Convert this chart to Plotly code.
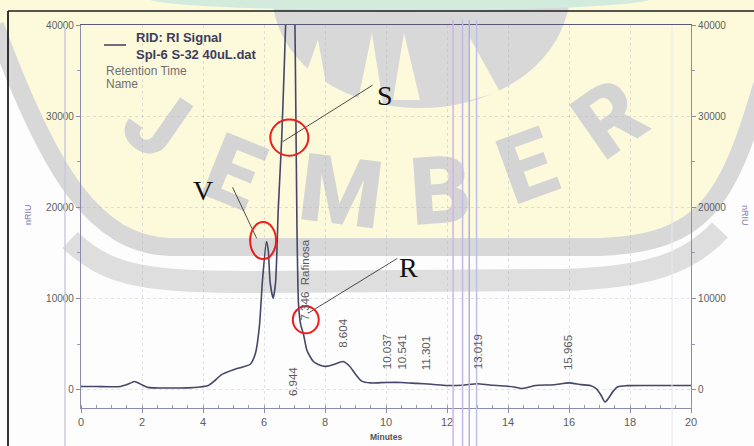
import plotly.graph_objects as go

# ---- chromatogram trace (RID: RI Signal) ----
time_min = [0.0, 0.5, 1.0, 1.3, 1.55, 1.75, 1.95, 2.2, 2.6, 3.0, 3.5, 3.9, 4.15, 4.35,
            4.6, 5.0, 5.3, 5.55, 5.72, 5.85, 5.95, 6.08, 6.14, 6.2, 6.3, 6.38, 6.47,
            6.58, 6.68, 6.78, 6.88, 6.98, 7.04, 7.08, 7.13, 7.2, 7.3, 7.4, 7.5, 7.62,
            7.8, 8.0, 8.25, 8.6, 8.8, 9.0, 9.2, 9.5, 10.0, 10.5, 11.0, 11.5, 12.0,
            12.5, 13.0, 13.4, 13.9, 14.2, 14.45, 14.7, 14.9, 15.5, 16.0, 16.4, 16.7,
            16.9, 17.05, 17.18, 17.3, 17.45, 17.6, 17.9, 18.5, 19.0, 20.0]
signal_nriu = [360, 350, 330, 360, 620, 910, 620, 260, 190, 190, 210, 300, 440, 900,
               1640, 2190, 2500, 2800, 4000, 7000, 12000, 16250, 15300, 11800, 10050,
               11800, 20000, 27500, 37000, 47000, 52000, 47000, 32000, 18000, 9500,
               7200, 6000, 4400, 3700, 3100, 2750, 2560, 2740, 3100, 2600, 1700, 950,
               750, 800, 800, 700, 600, 470, 500, 660, 520, 420, 300, 140, 300, 470,
               550, 760, 560, 470, 100, -600, -1350, -900, -150, 330, 450, 470, 470, 470]

# ---- peak retention-time labels ----
peak_rt = [6.944, 7.346, 8.604, 10.037, 10.541, 11.301, 13.019, 15.965]
peak_name = ["", "Rafinosa", "", "", "", "", "", ""]
peak_label_base = [-770, 7450, 4490, 2100, 2100, 2000, 2100, 2100]

# ---- axis ticks ----
x_ticks = list(range(0, 21, 2))
y_ticks = [0, 10000, 20000, 30000, 40000]
y_minor = [5000, 15000, 25000, 35000]
x_range = [0, 20]
y_range = [-2000, 40000]

# marker lines near 12-13 min
marker_rt = [12.20, 12.51, 12.73, 12.97]
marker_col = ["#d8b0ec", "#c4b8ea", "#b0b0e0", "#bebeea"]

# callouts: letter, letter position, line end at the letter, circled point, circle size
callouts = [
    ("S", (9.97, 32300), (9.56, 33400), (6.61, 27200), (6.83, 27650), (1.25, 3950)),
    ("V", (4.00, 21900), (4.97, 22200), (5.76, 16600), (5.97, 16360), (0.85, 4050)),
    ("R", (10.75, 13400), (10.37, 14400), (7.45, 8400), (7.37, 7670), (0.85, 2960)),
]

W, H = 754, 446
ML, MR, MT, MB = 81, 63, 25, 38


def px(x):
    return (x - ML) / (W - ML - MR)


def py(y):
    return (H - MB - y) / (H - MT - MB)


def path(pts, close=True):
    s = ""
    for i, p in enumerate(pts):
        if p[0] == "C":
            (a, b), (c, d), (e, f) = p[1], p[2], p[3]
            s += f" C {px(a):.4f},{py(b):.4f} {px(c):.4f},{py(d):.4f} {px(e):.4f},{py(f):.4f}"
        else:
            s += (" M " if i == 0 else " L ") + f"{px(p[0]):.4f},{py(p[1]):.4f}"
    return s + (" Z" if close else "")


fig = go.Figure()
fig.add_trace(go.Scatter(
    x=time_min, y=signal_nriu, mode="lines",
    line=dict(color="#46466a", width=1.6, shape="spline", smoothing=0.6),
    hoverinfo="skip", showlegend=False))

shapes = []
ann = []

# ---- background wash (yellow field, grey arcs, crest) ----
YEL = "#fcfadb"
GRY = "#d8d8d8"
shapes.append(dict(type="path", xref="paper", yref="paper", layer="below",
                   path=path([(0, 0), (754, 0), (760, 80),
                              ("C", (720, 200), (700, 236), (600, 240)),
                              (170, 240), ("C", (95, 238), (50, 170), (-5, 25))]),
                   fillcolor=YEL, line=dict(width=0)))
shapes.append(dict(type="path", xref="paper", yref="paper", layer="below",
                   path=path([(-5, 25), ("C", (50, 175), (95, 244), (170, 247)),
                              (600, 247), ("C", (705, 243), (728, 200), (762, 85))], close=False),
                   line=dict(color=GRY, width=18)))
shapes.append(dict(type="path", xref="paper", yref="paper", layer="below",
                   path=path([(70, 240), ("C", (110, 278), (150, 282), (260, 282)),
                              (560, 280), ("C", (650, 278), (690, 262), (720, 230))], close=False),
                   line=dict(color="#dedede", width=22)))
# crest at the top
shapes.append(dict(type="path", xref="paper", yref="paper", layer="below",
                   path=path([(272, 0), ("C", (280, 70), (350, 108), (420, 108)),
                              ("C", (490, 108), (560, 70), (570, 0))]),
                   fillcolor=GRY, line=dict(width=0)))
for tri in [[(356, 110), (384, 110), (372, 33)], [(393, 100), (420, 100), (404, 33)],
            [(300, 90), (330, 105), (318, 40)], [(470, 100), (500, 92), (470, 38)]]:
    shapes.append(dict(type="path", xref="paper", yref="paper", layer="below",
                       path=path(tri), fillcolor=YEL, line=dict(width=0)))
shapes.append(dict(type="path", xref="paper", yref="paper", layer="below",
                   path=path([(150, 0), (650, 0), ("C", (600, 14), (200, 14), (150, 0))]),
                   fillcolor="#d3ebdd", line=dict(width=0)))

# watermark lettering on an arc
for ch, cx, cy, ang in [("J", 160, 117, 35), ("E", 236, 166, 22), ("M", 342, 185, 7),
                        ("B", 440, 184, -4), ("E", 525, 160, -20), ("R", 606, 113, -35)]:
    shapes.append(dict(type="rect", xref="paper", yref="paper", layer="below",
                       x0=px(cx - 40), x1=px(cx + 40), y0=py(cy + 40), y1=py(cy - 40),
                       line=dict(width=0), fillcolor="rgba(0,0,0,0)",
                       label=dict(text=ch, textangle=ang, textposition="middle center",
                                  font=dict(family="Roboto", size=94, color="#d4d4d4",
                                            weight=900))))

# ---- frame and scan edges ----
shapes.append(dict(type="line", xref="paper", yref="paper", x0=px(8), x1=px(754),
                   y0=py(11), y1=py(11), line=dict(color="#1e1e1e", width=1.5)))
shapes.append(dict(type="line", xref="paper", yref="paper", x0=px(8), x1=px(8),
                   y0=py(11), y1=py(446), line=dict(color="#1e1e1e", width=1.8)))
shapes.append(dict(type="line", xref="paper", yref="paper", x0=px(65), x1=px(65),
                   y0=py(28), y1=py(446), line=dict(color="#cacade", width=1.5)))
shapes.append(dict(type="line", xref="paper", yref="paper", x0=px(672), x1=px(672),
                   y0=py(25), y1=py(446), line=dict(color="#e6e6f0", width=1)))

for t, c in zip(marker_rt, marker_col):
    shapes.append(dict(type="line", xref="x", yref="paper", x0=t, x1=t,
                       y0=py(446), y1=py(20), line=dict(color=c, width=1.5)))

# ---- legend block ----
shapes.append(dict(type="line", xref="paper", yref="paper", x0=px(104), x1=px(126),
                   y0=py(45), y1=py(45), line=dict(color="#3d3d5c", width=1.5)))
for txt, x, y, bold, size, col in [
        ("RID: RI Signal", 134, 37.5, True, 13, "#3d3d5c"),
        ("Spl-6 S-32 40uL.dat", 134, 55, True, 13, "#3d3d5c"),
        ("Retention Time", 104, 71, False, 12, "#707070"),
        ("Name", 104, 84, False, 12, "#707070")]:
    ann.append(dict(text=f"<b>{txt}</b>" if bold else txt, xref="paper", yref="paper",
                    x=px(x), y=py(y), xanchor="left", yanchor="middle", showarrow=False,
                    font=dict(family="Liberation Sans", size=size, color=col)))

# ---- peak labels ----
for rt, name, base in zip(peak_rt, peak_name, peak_label_base):
    label = f"{rt:.3f}" + ("\u00a0\u00a0" + name if name else "")
    ann.append(dict(text=label, x=rt, y=base, xref="x", yref="y", textangle=-90,
                    xanchor="center", yanchor="bottom", showarrow=False, borderpad=0,
                    font=dict(family="Liberation Sans", size=11.5, color="#5a5a5a")))

# ---- callouts ----
for letter, (lx, ly), (ax0, ay0), (ax1, ay1), (cx, cy), (cw, ch) in callouts:
    ann.append(dict(text=letter, x=lx, y=ly, xref="x", yref="y", showarrow=False,
                    xanchor="center", yanchor="middle",
                    font=dict(family="Liberation Serif", size=28, color="#111111")))
    shapes.append(dict(type="line", xref="x", yref="y", x0=ax0, y0=ay0, x1=ax1, y1=ay1,
                       line=dict(color="#222222", width=0.8)))
    shapes.append(dict(type="circle", xref="x", yref="y", x0=cx - cw / 2, x1=cx + cw / 2,
                       y0=cy - ch / 2, y1=cy + ch / 2, line=dict(color="#ee1c1c", width=2)))

# ---- axis titles ----
ann.append(dict(text="nRIU", xref="paper", yref="paper", x=px(28), y=py(215),
                xanchor="center", yanchor="middle", textangle=-90, showarrow=False,
                font=dict(family="Liberation Sans", size=9, color="#7a7aa6")))
ann.append(dict(text="nRIU", xref="paper", yref="paper", x=px(745), y=py(215),
                xanchor="center", yanchor="middle", textangle=90, showarrow=False,
                font=dict(family="Liberation Sans", size=9, color="#7a7aa6")))
ann.append(dict(text="<b>Minutes</b>", xref="paper", yref="paper", x=0.5, y=py(437),
                xanchor="center", yanchor="middle", showarrow=False,
                font=dict(family="Liberation Sans", size=8.5, color="#555555")))

axis_font = dict(family="Liberation Sans", size=10, color="#5e5e5e")
grid = dict(showgrid=True, gridcolor="rgba(170,170,195,0.35)", griddash="dot", gridwidth=1)
y_minor_cfg = dict(tickvals=y_minor, ticks="outside", ticklen=3, tickcolor="#9a9ab8")

fig.update_layout(
    width=W, height=H, margin=dict(l=ML, r=MR, t=MT, b=MB),
    paper_bgcolor="#fdfdfd", plot_bgcolor="rgba(0,0,0,0)",
    shapes=shapes, annotations=ann, showlegend=False,
    xaxis=dict(range=x_range, tickvals=x_ticks, ticks="outside", ticklen=4,
               tickcolor="#8c8cac", showline=True, linecolor="#8c8cac", linewidth=1.2,
               zeroline=False,
               tickfont=dict(family="Liberation Sans", size=11, color="#5e5e5e"),
               minor=dict(dtick=0.5, ticks="inside", ticklen=3, tickcolor="#9a9ab8"),
               **grid),
    xaxis2=dict(range=x_range, overlaying="x", side="top", showline=True,
                linecolor="#5a5a78", linewidth=1.4, showticklabels=False, ticks="",
                showgrid=False, zeroline=False),
    yaxis=dict(range=y_range, tickvals=y_ticks, tickformat="d", ticks="outside",
               ticklen=4, tickcolor="#8c8cac", showline=True, linecolor="#8c8cac",
               linewidth=1.2, zeroline=False, tickfont=axis_font, minor=y_minor_cfg,
               **grid),
    yaxis2=dict(range=y_range, overlaying="y", side="right", tickvals=y_ticks,
                tickformat="d", ticks="outside", ticklen=4, tickcolor="#8c8cac",
                showline=True, linecolor="#8c8cac", linewidth=1.2, zeroline=False,
                showgrid=False, tickfont=axis_font, minor=y_minor_cfg),
)
# invisible companions so the top and right axes are drawn
fig.add_trace(go.Scatter(x=x_range, y=y_range, xaxis="x2", yaxis="y2", mode="markers",
                         marker=dict(opacity=0), hoverinfo="skip", showlegend=False))

fig.write_html("out.html")
